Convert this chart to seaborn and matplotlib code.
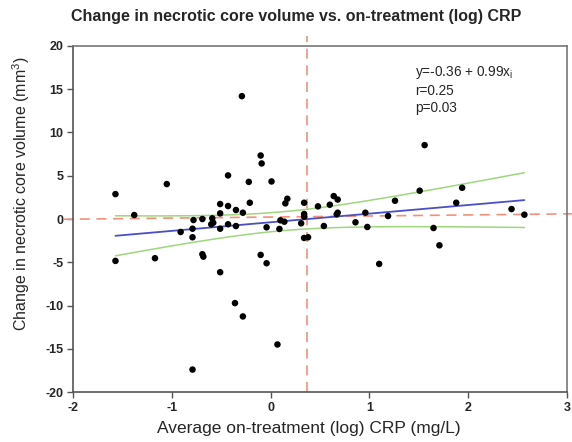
import numpy as np
import pandas as pd
import matplotlib.pyplot as plt
import seaborn as sns

# values
crp_log = [
    -1.57, -1.38, -1.05, -0.29, -0.43, -0.10, -0.09, -0.22, 0.01, -0.51,
    -0.43, -0.51, -0.35, -0.28, -0.21, 0.17, 0.15, 0.34, 0.34, 0.34,
    -0.91, -0.79, -0.78, -0.69, -0.59, -0.58, -0.60, -0.51, -0.43, -0.35,
    -0.04, 0.10, 0.14, 0.09, 0.31, -0.79, 0.34, 0.38, -1.57, -1.17,
    -0.69, -0.68, -0.51, -0.36, -0.28, -0.79, -0.10, -0.04, 0.07, 1.56,
    1.51, 1.94, 1.88, 1.26, 0.48, 0.60, 0.64, 0.68, 0.67, 0.68,
    0.96, 1.19, 0.86, 0.54, 0.98, 1.65, 2.44, 2.57, 1.71, 1.10,
]
nc_change = [
    2.88, 0.46, 4.04, 14.2, 5.04, 7.34, 6.42, 4.29, 4.34, 1.73,
    1.50, 0.65, 1.04, 0.73, 1.88, 2.34, 1.81, 1.88, 0.58, 0.27,
    -1.50, -1.12, -0.12, 0.00, 0.08, -0.43, -0.61, -1.12, -0.61, -0.81,
    -0.96, -0.15, -0.31, -1.15, -0.50, -2.11, -2.19, -2.11, -4.84, -4.53,
    -4.07, -4.35, -6.15, -9.72, -11.26, -17.4, -4.15, -5.11, -14.5, 8.54,
    3.27, 3.61, 1.88, 2.11, 1.46, 1.65, 2.65, 2.25, 0.54, 0.73,
    0.73, 0.35, -0.38, -0.81, -0.92, -1.04, 1.15, 0.50, -3.04, -5.19,
]
crp_cut = 0.37
stats_text = "y=-0.36 + 0.99x$_\\mathregular{i}$\nr=0.25\np=0.03"

df = pd.DataFrame({"crp": crp_log, "nc": nc_change})

# linear fit + 95% confidence band
x = df["crp"].to_numpy()
y = df["nc"].to_numpy()
n = len(x)
slope, icpt = np.polyfit(x, y, 1)
resid = y - (icpt + slope * x)
s = np.sqrt(np.sum(resid ** 2) / (n - 2))
sxx = np.sum((x - x.mean()) ** 2)
xs = np.linspace(x.min(), x.max(), 100)
fit = icpt + slope * xs
half = 1.995 * s * np.sqrt(1 / n + (xs - x.mean()) ** 2 / sxx)

sns.set_style("ticks")
plt.rcParams['font.family'] = ['Liberation Sans', 'DejaVu Sans']
plt.rcParams['mathtext.fontset'] = 'custom'
plt.rcParams['mathtext.rm'] = 'Liberation Sans'
plt.rcParams['axes.unicode_minus'] = False

fig = plt.figure(figsize=(5.72, 4.42), dpi=100)
ax = fig.add_axes([0.1276, 0.113, 0.8634, 0.783])

ax.plot([-2.1, 3.05], [-0.03, 0.6], color="#f4907a", lw=1.2,
        dashes=(6, 4), clip_on=False, zorder=1)
ax.plot([crp_cut, crp_cut], [-20, 21.2], color="#f4907a", lw=1.2,
        dashes=(6, 4), clip_on=False, zorder=1)

ax.plot(xs, fit + half, color="#9fd67e", lw=1.1, zorder=2)
ax.plot(xs, fit - half, color="#9fd67e", lw=1.1, zorder=2)
ax.plot(xs, fit, color="#4a4ec8", lw=1.3, zorder=2)

sns.scatterplot(data=df, x="crp", y="nc", ax=ax, color="black", s=22,
                edgecolor="none", zorder=3)

ax.set_xlim(-2, 3)
ax.set_ylim(-20, 20)
ax.set_xticks(range(-2, 4))
ax.set_yticks(range(-20, 25, 5))
ax.tick_params(direction="out", length=4, width=1, color="#555555",
               labelsize=9, pad=3)
for lab in ax.get_xticklabels() + ax.get_yticklabels():
    lab.set_fontweight("bold")
for side in ["left", "bottom"]:
    ax.spines[side].set_color("#555555")
    ax.spines[side].set_linewidth(1.2)
for side in ["top", "right"]:
    ax.spines[side].set_color("#777777")
    ax.spines[side].set_linewidth(1.2)

ax.set_title("Change in necrotic core volume vs. on-treatment (log) CRP",
             fontsize=11.5, fontweight="bold", pad=18, x=0.452)
ax.set_xlabel("Average on-treatment (log) CRP (mg/L)", fontsize=12.5)
ax.xaxis.set_label_coords(0.478, -0.085)
ax.set_ylabel("Change in necrotic core volume (mm$^\\mathregular{3}$)", fontsize=11.5)
ax.yaxis.set_label_coords(-0.082, 0.572)

ax.text(1.46, 17.9, stats_text, fontsize=9.8, va="top", ha="left",
        linespacing=1.25)

fig.savefig("out.png", dpi=100)
